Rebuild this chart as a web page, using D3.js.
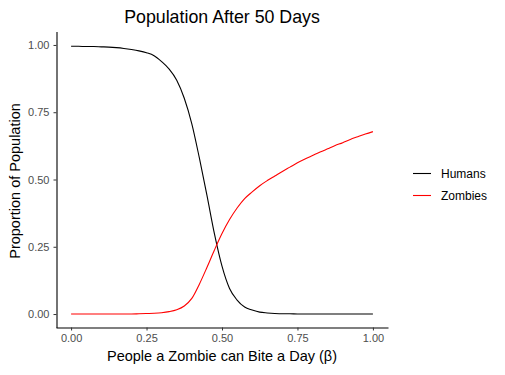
<!DOCTYPE html>
<html>
<head>
<meta charset="utf-8">
<script src="https://cdn.jsdelivr.net/npm/d3@7"></script>
<style>
  body { margin: 0; background: #fff; }
  svg { font-family: "Liberation Sans", Arial, sans-serif; }
</style>
</head>
<body>
<svg id="chart" width="505" height="375"></svg>
<script>
// beta values (people a zombie can bite a day)
var betas = [0.000, 0.025, 0.050, 0.075, 0.100, 0.125, 0.150, 0.175, 0.200, 0.225,
             0.250, 0.275, 0.300, 0.325, 0.350, 0.375, 0.400, 0.425, 0.450, 0.475,
             0.500, 0.525, 0.550, 0.575, 0.600, 0.625, 0.650, 0.675, 0.700, 0.725,
             0.750, 0.775, 0.800, 0.825, 0.850, 0.875, 0.900, 0.925, 0.950, 0.975, 1.000];

var humans = [0.995, 0.995, 0.994, 0.994, 0.993, 0.992, 0.990, 0.987, 0.983, 0.978,
              0.971, 0.960, 0.938, 0.910, 0.869, 0.802, 0.707, 0.580, 0.442, 0.298,
              0.178, 0.095, 0.052, 0.026, 0.015, 0.007, 0.004, 0.002, 0.001, 0.001,
              0.000, 0.000, 0.000, 0.000, 0.000, 0.000, 0.000, 0.000, 0.000, 0.000, 0.000];

var zombies = [0.000, 0.000, 0.000, 0.000, 0.000, 0.000, 0.000, 0.000, 0.000, 0.001,
               0.002, 0.003, 0.005, 0.009, 0.016, 0.030, 0.058, 0.111, 0.173, 0.238,
               0.299, 0.351, 0.394, 0.429, 0.454, 0.477, 0.496, 0.513, 0.530, 0.546,
               0.562, 0.576, 0.589, 0.602, 0.614, 0.626, 0.637, 0.649, 0.659, 0.669, 0.678];

var seriesNames = ["Humans", "Zombies"];
var seriesColors = ["#000000", "#ff0000"];
var xTicks = [0, 0.25, 0.5, 0.75, 1];
var yTicks = [0, 0.25, 0.5, 0.75, 1];

var svg = d3.select("#chart");

var xScale = d3.scaleLinear()
    .domain([-0.05, 1.05])
    .range([56, 388]);

var yScale = d3.scaleLinear()
    .domain([-0.05, 1.05])
    .range([327.5, 31.5]);

var xAxis = d3.axisBottom(xScale)
    .tickValues(xTicks)
    .tickFormat(d3.format(".2f"))
    .tickSizeInner(3)
    .tickSizeOuter(0)
    .tickPadding(4);

var yAxis = d3.axisLeft(yScale)
    .tickValues(yTicks)
    .tickFormat(d3.format(".2f"))
    .tickSizeInner(3)
    .tickSizeOuter(0)
    .tickPadding(4);

var gx = svg.append("g")
   .attr("transform", "translate(0,327.5)")
   .call(xAxis);

var gy = svg.append("g")
   .attr("transform", "translate(56.5,0)")
   .call(yAxis);

[gx, gy].forEach(function(g) {
    g.select(".domain").attr("stroke", "#000").attr("stroke-width", 1.1);
    g.selectAll(".tick line").attr("stroke", "#333");
    g.selectAll(".tick text")
        .attr("fill", "#4d4d4d")
        .style("font-size", "11px")
        .style("font-family", "Liberation Sans, Arial, sans-serif");
});

// lines
var rows = betas.map(function(b, i) { return {beta: b, h: humans[i], z: zombies[i]}; });

var lineH = d3.line()
    .curve(d3.curveMonotoneX)
    .x(function(d) { return xScale(d.beta); })
    .y(function(d) { return yScale(d.h); });

var lineZ = d3.line()
    .curve(d3.curveMonotoneX)
    .x(function(d) { return xScale(d.beta); })
    .y(function(d) { return yScale(d.z); });

svg.append("path")
   .datum(rows)
   .attr("d", lineH)
   .attr("fill", "none")
   .attr("stroke", seriesColors[0])
   .attr("stroke-width", 1.1);

svg.append("path")
   .datum(rows)
   .attr("d", lineZ)
   .attr("fill", "none")
   .attr("stroke", seriesColors[1])
   .attr("stroke-width", 1.1);

// titles
svg.append("text")
   .attr("x", 222)
   .attr("y", 23)
   .attr("text-anchor", "middle")
   .style("font-size", "17.8px")
   .text("Population After 50 Days");

svg.append("text")
   .attr("x", 222)
   .attr("y", 361)
   .attr("text-anchor", "middle")
   .style("font-size", "14.5px")
   .text("People a Zombie can Bite a Day (β)");

svg.append("text")
   .attr("transform", "translate(20,181) rotate(-90)")
   .attr("text-anchor", "middle")
   .style("font-size", "14.5px")
   .text("Proportion of Population");

// legend
var legend = svg.selectAll(".legend")
    .data(seriesNames)
    .enter()
    .append("g")
    .attr("transform", function(d, i) { return "translate(413," + (173.5 + i * 22) + ")"; });

legend.append("line")
    .attr("x1", 0)
    .attr("x2", 18)
    .attr("stroke", function(d, i) { return seriesColors[i]; })
    .attr("stroke-width", 1.1);

legend.append("text")
    .attr("x", 28)
    .attr("y", 4)
    .style("font-size", "12px")
    .text(function(d) { return d; });
</script>
</body>
</html>
